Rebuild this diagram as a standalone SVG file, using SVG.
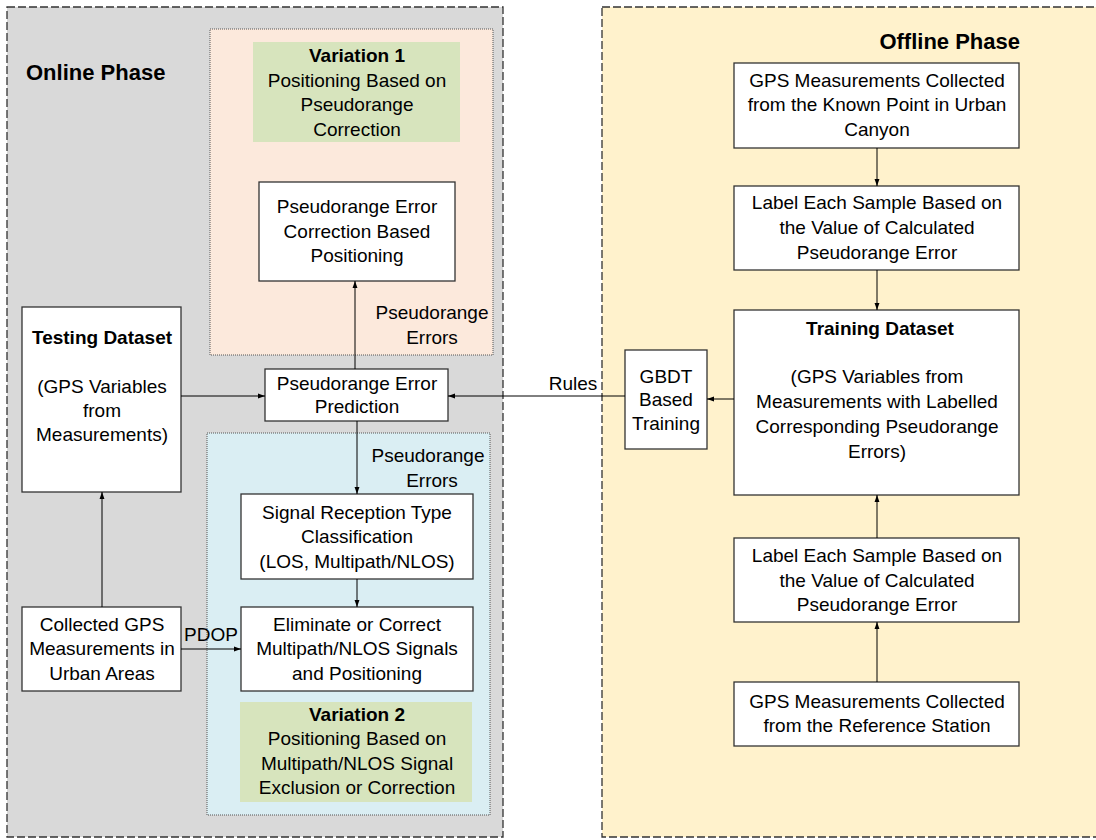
<svg xmlns="http://www.w3.org/2000/svg" width="1096" height="840" viewBox="0 0 1096 840">
<defs>
<marker id="ah" viewBox="0 0 10 10" refX="10" refY="5" markerWidth="7" markerHeight="7" markerUnits="userSpaceOnUse" orient="auto"><path d="M0,1.5 L10,5 L0,8.5 z" fill="#000"/></marker>
<style>
text{font-family:"Liberation Sans",Arial,sans-serif;font-size:19px;fill:#000;text-anchor:middle}
.b{font-weight:bold}
.ph{font-weight:bold;font-size:22px}
.box{fill:#fff;stroke:#333;stroke-width:1.3}
.phase{stroke:#333;stroke-width:1.3;stroke-dasharray:8,3}
.var{stroke:#555;stroke-width:1;stroke-dasharray:1,1}
.green{fill:#d7e4bd}
.c{stroke:#000;stroke-width:1;fill:none;marker-end:url(#ah)}
</style>
</defs>
<rect width="1096" height="840" fill="#fff"/>
<g id="online-phase">
<rect class="phase" x="7" y="7" width="496" height="830" fill="#d9d9d9"/>
<text class="ph" x="26" y="80" style="text-anchor:start">Online Phase</text>
</g>
<g id="offline-phase">
<rect class="phase" x="602" y="7" width="500" height="830" fill="#fff2cc"/>
<text class="ph" x="1020" y="49" style="text-anchor:end">Offline Phase</text>
</g>
<g id="variation1">
<rect class="var" x="210" y="29" width="283" height="326" fill="#fce9dc"/>
<rect class="green" x="253" y="42" width="207" height="100"/>
<text class="b" x="357" y="62">Variation 1</text>
<text x="357" y="87">Positioning Based on</text>
<text x="357" y="111">Pseudorange</text>
<text x="357" y="136">Correction</text>
</g>
<g id="variation2">
<rect class="var" x="207" y="433" width="283" height="382" fill="#daeef3"/>
<rect class="green" x="240" y="702" width="232" height="100"/>
<text class="b" x="357" y="721">Variation 2</text>
<text x="357" y="745">Positioning Based on</text>
<text x="357" y="770">Multipath/NLOS Signal</text>
<text x="357" y="794">Exclusion or Correction</text>
</g>
<g id="correction-positioning">
<rect class="box" x="259" y="182" width="196" height="99"/>
<text x="357" y="213">Pseudorange Error</text>
<text x="357" y="238">Correction Based</text>
<text x="357" y="262">Positioning</text>
</g>
<g id="testing-dataset">
<rect class="box" x="22" y="307" width="159" height="185"/>
<text class="b" x="102" y="344">Testing Dataset</text>
<text x="102" y="393">(GPS Variables</text>
<text x="102" y="417">from</text>
<text x="102" y="441">Measurements)</text>
</g>
<g id="prediction">
<rect class="box" x="265" y="369" width="183" height="52"/>
<text x="357" y="390">Pseudorange Error</text>
<text x="357" y="413">Prediction</text>
</g>
<g id="signal-classification">
<rect class="box" x="241" y="494" width="232" height="85"/>
<text x="357" y="519">Signal Reception Type</text>
<text x="357" y="543">Classification</text>
<text x="357" y="568">(LOS, Multipath/NLOS)</text>
</g>
<g id="eliminate">
<rect class="box" x="241" y="607" width="232" height="84"/>
<text x="357" y="631">Eliminate or Correct</text>
<text x="357" y="655">Multipath/NLOS Signals</text>
<text x="357" y="680">and Positioning</text>
</g>
<g id="collected-gps">
<rect class="box" x="22" y="607" width="159" height="84"/>
<text x="102" y="631">Collected GPS</text>
<text x="102" y="655">Measurements in</text>
<text x="102" y="680">Urban Areas</text>
</g>
<g id="gps-known-point">
<rect class="box" x="734" y="63" width="285" height="85"/>
<text x="877" y="87">GPS Measurements Collected</text>
<text x="877" y="111">from the Known Point in Urban</text>
<text x="877" y="136">Canyon</text>
</g>
<g id="label-top">
<rect class="box" x="734" y="186" width="285" height="84"/>
<text x="877" y="209">Label Each Sample Based on</text>
<text x="877" y="234">the Value of Calculated</text>
<text x="877" y="259">Pseudorange Error</text>
</g>
<g id="training-dataset">
<rect class="box" x="734" y="310" width="285" height="185"/>
<text class="b" x="880" y="335">Training Dataset</text>
<text x="877" y="383">(GPS Variables from</text>
<text x="877" y="408">Measurements with Labelled</text>
<text x="877" y="433">Corresponding Pseudorange</text>
<text x="877" y="458">Errors)</text>
</g>
<g id="label-bottom">
<rect class="box" x="734" y="538" width="285" height="84"/>
<text x="877" y="562">Label Each Sample Based on</text>
<text x="877" y="587">the Value of Calculated</text>
<text x="877" y="611">Pseudorange Error</text>
</g>
<g id="gps-reference">
<rect class="box" x="734" y="682" width="285" height="64"/>
<text x="877" y="708">GPS Measurements Collected</text>
<text x="877" y="732">from the Reference Station</text>
</g>
<g id="gbdt">
<rect class="box" x="625" y="350" width="82" height="99"/>
<text x="666" y="383">GBDT</text>
<text x="666" y="406">Based</text>
<text x="666" y="430">Training</text>
</g>
<g id="connectors">
<line class="c" x1="355" y1="369" x2="355" y2="281"/>
<line class="c" x1="181" y1="396" x2="265" y2="396"/>
<line class="c" x1="625" y1="396" x2="448" y2="396"/>
<line class="c" x1="357" y1="421" x2="357" y2="494"/>
<line class="c" x1="357" y1="579" x2="357" y2="607"/>
<line class="c" x1="102" y1="607" x2="102" y2="492"/>
<line class="c" x1="181" y1="649" x2="241" y2="649"/>
<line class="c" x1="877" y1="148" x2="877" y2="186"/>
<line class="c" x1="877" y1="270" x2="877" y2="310"/>
<line class="c" x1="734" y1="399" x2="707" y2="399"/>
<line class="c" x1="877" y1="538" x2="877" y2="495"/>
<line class="c" x1="877" y1="682" x2="877" y2="622"/>
<text x="432" y="319">Pseudorange</text>
<text x="432" y="344">Errors</text>
<text x="428" y="462">Pseudorange</text>
<text x="432" y="487">Errors</text>
<text x="211" y="641">PDOP</text>
<text x="573" y="390">Rules</text>
</g>
</svg>
